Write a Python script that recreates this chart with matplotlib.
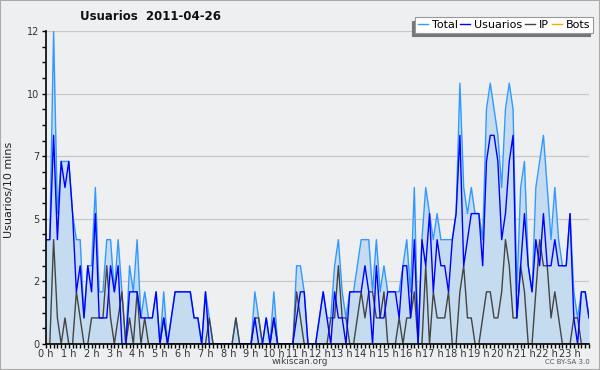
import matplotlib

matplotlib.use("Agg")
import matplotlib.pyplot as plt
import numpy as np
from matplotlib.patches import Rectangle
from matplotlib.ticker import FixedLocator, MultipleLocator

# 10-minute samples over the day (144 points)
total = [
    4, 4, 12, 5, 7, 7, 7, 5, 4, 4,
    1, 3, 3, 6, 2, 2, 4, 4, 2, 4,
    2, 0, 3, 2, 4, 1, 2, 1, 1, 2,
    0, 2, 0, 1, 2, 2, 2, 2, 2, 1,
    1, 0, 2, 1, 0, 0, 0, 0, 0, 0,
    1, 0, 0, 0, 0, 2, 1, 0, 1, 0,
    2, 0, 0, 0, 0, 0, 3, 3, 2, 0,
    0, 0, 1, 2, 1, 1, 3, 4, 2, 1,
    2, 2, 3, 4, 4, 4, 2, 4, 2, 3,
    2, 2, 2, 2, 3, 4, 2, 6, 0, 4,
    6, 5, 4, 5, 4, 4, 4, 4, 5, 10,
    6, 5, 6, 5, 5, 4, 9, 10, 9, 8,
    6, 9, 10, 9, 2, 6, 7, 3, 2, 6,
    7, 8, 6, 4, 6, 4, 3, 3, 5, 2,
    1, 2, 2, 1,
]
usuarios = [
    4, 4, 8, 4, 7, 6, 7, 5, 2, 3,
    1, 3, 2, 5, 1, 1, 1, 3, 2, 3,
    0, 0, 2, 2, 2, 1, 1, 1, 1, 2,
    0, 1, 0, 1, 2, 2, 2, 2, 2, 1,
    1, 0, 2, 0, 0, 0, 0, 0, 0, 0,
    0, 0, 0, 0, 0, 1, 0, 0, 1, 0,
    1, 0, 0, 0, 0, 0, 1, 2, 2, 0,
    0, 0, 1, 2, 1, 0, 2, 1, 1, 0,
    2, 2, 2, 2, 3, 2, 0, 3, 1, 1,
    2, 2, 2, 1, 3, 3, 1, 4, 0, 4,
    3, 5, 2, 4, 3, 3, 2, 4, 5, 8,
    3, 4, 5, 5, 5, 3, 7, 8, 8, 7,
    4, 5, 7, 8, 1, 3, 5, 3, 2, 4,
    3, 5, 3, 3, 4, 3, 3, 3, 5, 1,
    0, 2, 2, 1,
]
ip = [
    0, 0, 4, 1, 0, 1, 0, 0, 2, 1,
    0, 0, 1, 1, 1, 1, 3, 1, 0, 1,
    2, 0, 1, 0, 2, 0, 1, 0, 0, 0,
    0, 1, 0, 0, 0, 0, 0, 0, 0, 0,
    0, 0, 0, 1, 0, 0, 0, 0, 0, 0,
    1, 0, 0, 0, 0, 1, 1, 0, 0, 0,
    1, 0, 0, 0, 0, 0, 2, 1, 0, 0,
    0, 0, 0, 0, 0, 1, 1, 3, 1, 1,
    0, 0, 1, 2, 1, 2, 2, 1, 1, 2,
    0, 0, 0, 1, 0, 1, 1, 2, 0, 0,
    3, 0, 2, 1, 1, 1, 2, 0, 0, 2,
    3, 1, 1, 0, 0, 1, 2, 2, 1, 1,
    2, 4, 3, 1, 1, 3, 2, 0, 0, 2,
    4, 3, 3, 1, 2, 1, 0, 0, 0, 1,
    1, 0, 0, 0,
]
bots = [0] * 144

hour_labels = [f"{h} h" for h in range(24)]
y_ticks = [0, 2.4, 4.8, 7.2, 9.6, 12]
y_labels = ["0", "2", "5", "7", "10", "12"]

BG = "#eeeff0"

fig = plt.figure(figsize=(6, 3.7), dpi=100, facecolor=BG)
ax = fig.add_axes([46 / 600, 26 / 370, 543 / 600, 313 / 370])
ax.set_facecolor(BG)

x = np.arange(len(total)) / 6.0
ax.fill_between(x, total, 0, color="#c5dcf0", lw=0, zorder=1)
ax.plot(x, bots, color="#ffa500", lw=1, zorder=1.5, label="Bots")
ax.plot(x, total, color="#3399ff", lw=1, zorder=2, label="Total")
ax.plot(x, ip, color="#444444", lw=1, zorder=2.1, label="IP")
ax.plot(x, usuarios, color="#0000ff", lw=1, zorder=2.2, label="Usuarios")

ax.set_xlim(0, x[-1])
ax.set_ylim(0, 12)

ax.set_yticks(y_ticks)
ax.set_yticklabels(y_labels)
ax.yaxis.set_minor_locator(MultipleLocator(0.6))
ax.set_xticks(range(24))
ax.set_xticklabels(hour_labels)
ax.xaxis.set_minor_locator(FixedLocator(x))
ax.tick_params(axis="both", which="major", length=3, width=1, labelsize=7, colors="#333333")
ax.tick_params(axis="x", which="major", pad=0.5)
ax.tick_params(axis="y", which="major", pad=2)
ax.tick_params(axis="both", which="minor", length=3, width=1, color="black")
ax.tick_params(axis="both", which="major", color="black")
ax.grid(axis="y", color="#c8c8c8", lw=0.9)
ax.set_axisbelow(True)

for side in ("top", "right"):
    ax.spines[side].set_visible(False)
for side in ("left", "bottom"):
    ax.spines[side].set_color("black")
    ax.spines[side].set_linewidth(1.2)
    ax.spines[side].set_zorder(3)

handles, labels = ax.get_legend_handles_labels()
order = ["Total", "Usuarios", "IP", "Bots"]
hmap = dict(zip(labels, handles))
leg = fig.legend(
    [hmap[k] for k in order], order,
    loc="upper right", bbox_to_anchor=(593 / 600, 1 - 17 / 370),
    ncol=4, fontsize=8, frameon=True, fancybox=False,
    handlelength=0.9, handletextpad=0.35, columnspacing=0.25,
    borderpad=0.25, borderaxespad=0,
    shadow={"ox": -2.2, "oy": -2.6, "color": "#777777", "alpha": 1},
)
leg.get_frame().set_edgecolor("#999999")
leg.get_frame().set_linewidth(0.8)
leg.get_frame().set_facecolor("white")
leg.get_frame().set_alpha(1)

fig.text(151 / 600, 1 - 16 / 370, "Usuarios  2011-04-26", ha="center", va="center",
         fontsize=8.5, fontweight="bold", color="#111111")
fig.text(9 / 600, 1 - 190 / 370, "Usuarios/10 mins", rotation=90, ha="center", va="center",
         fontsize=8, color="#222222")
fig.text(300 / 600, 1 - 362 / 370, "wikiscan.org", ha="center", va="center",
         fontsize=6.5, color="#444444")
fig.text(590 / 600, 1 - 362 / 370, "CC BY-SA 3.0", ha="right", va="center",
         fontsize=5, color="#555555")

fig.patches.append(Rectangle((0, 0), 1, 1, transform=fig.transFigure, fill=False,
                             edgecolor="#aaaaaa", lw=1.5))

fig.savefig("out.png", dpi=100, facecolor=BG)
plt.close(fig)
